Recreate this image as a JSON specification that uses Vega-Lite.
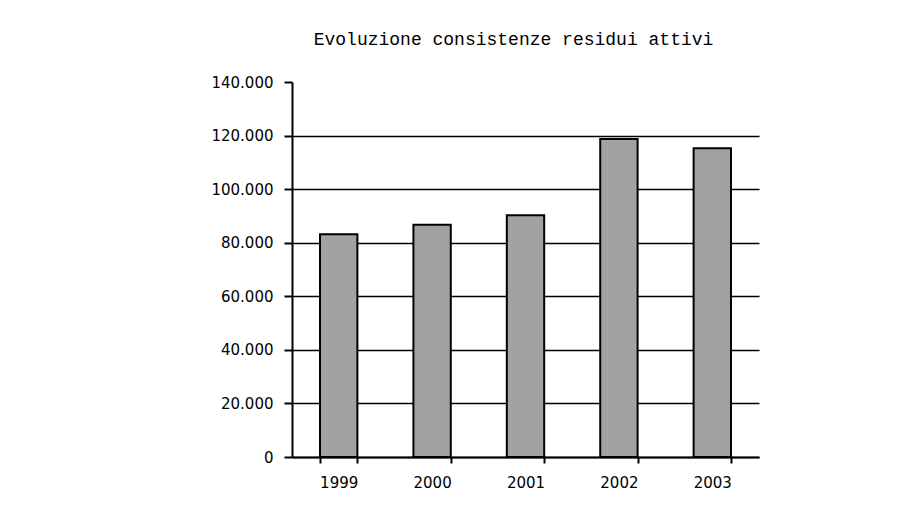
{
  "$schema": "https://vega.github.io/schema/vega-lite/v6.json",
  "width": 467,
  "height": 375,
  "autosize": {"type": "none"},
  "padding": {"left": 292, "top": 82, "right": 162, "bottom": 70},
  "background": "white",
  "title": {
    "text": "Evoluzione consistenze residui attivi",
    "font": "Liberation Mono",
    "fontSize": 18,
    "fontWeight": "normal",
    "color": "black",
    "anchor": "middle",
    "frame": "group",
    "dx": -12,
    "offset": 26
  },
  "data": {
    "values": [
      {"anno": "1999", "valore": 83200},
      {"anno": "2000", "valore": 86700},
      {"anno": "2001", "valore": 90300},
      {"anno": "2002", "valore": 118700},
      {"anno": "2003", "valore": 115300}
    ]
  },
  "mark": {"type": "bar", "fill": "#a2a2a2", "stroke": "black", "strokeWidth": 2},
  "encoding": {
    "x": {
      "field": "anno",
      "type": "ordinal",
      "scale": {"paddingInner": 0.6, "paddingOuter": 0.3},
      "axis": {
        "title": null,
        "labelAngle": 0,
        "labelFont": "DejaVu Sans",
        "labelFontSize": 15,
        "labelColor": "black",
        "labelPadding": 12,
        "tickBand": "extent",
        "tickSize": 6,
        "tickColor": "black",
        "tickWidth": 2,
        "domainColor": "black",
        "domainWidth": 2
      }
    },
    "y": {
      "field": "valore",
      "type": "quantitative",
      "scale": {"domain": [0, 140000], "nice": false},
      "axis": {
        "title": null,
        "values": [0, 20000, 40000, 60000, 80000, 100000, 120000, 140000],
        "format": ",.0f",
        "labelFont": "DejaVu Sans",
        "labelFontSize": 15,
        "labelColor": "black",
        "labelPadding": 11,
        "tickSize": 8,
        "tickColor": "black",
        "tickWidth": 2,
        "domainColor": "black",
        "domainWidth": 2,
        "grid": true,
        "gridColor": {"condition": {"test": "datum.value >= 140000", "value": "transparent"}, "value": "black"},
        "gridWidth": 1.5,
        "gridOpacity": 1
      }
    }
  },
  "config": {
    "locale": {"number": {"decimal": ",", "thousands": ".", "grouping": [3], "currency": ["€", ""]}},
    "view": {"stroke": null}
  }
}
